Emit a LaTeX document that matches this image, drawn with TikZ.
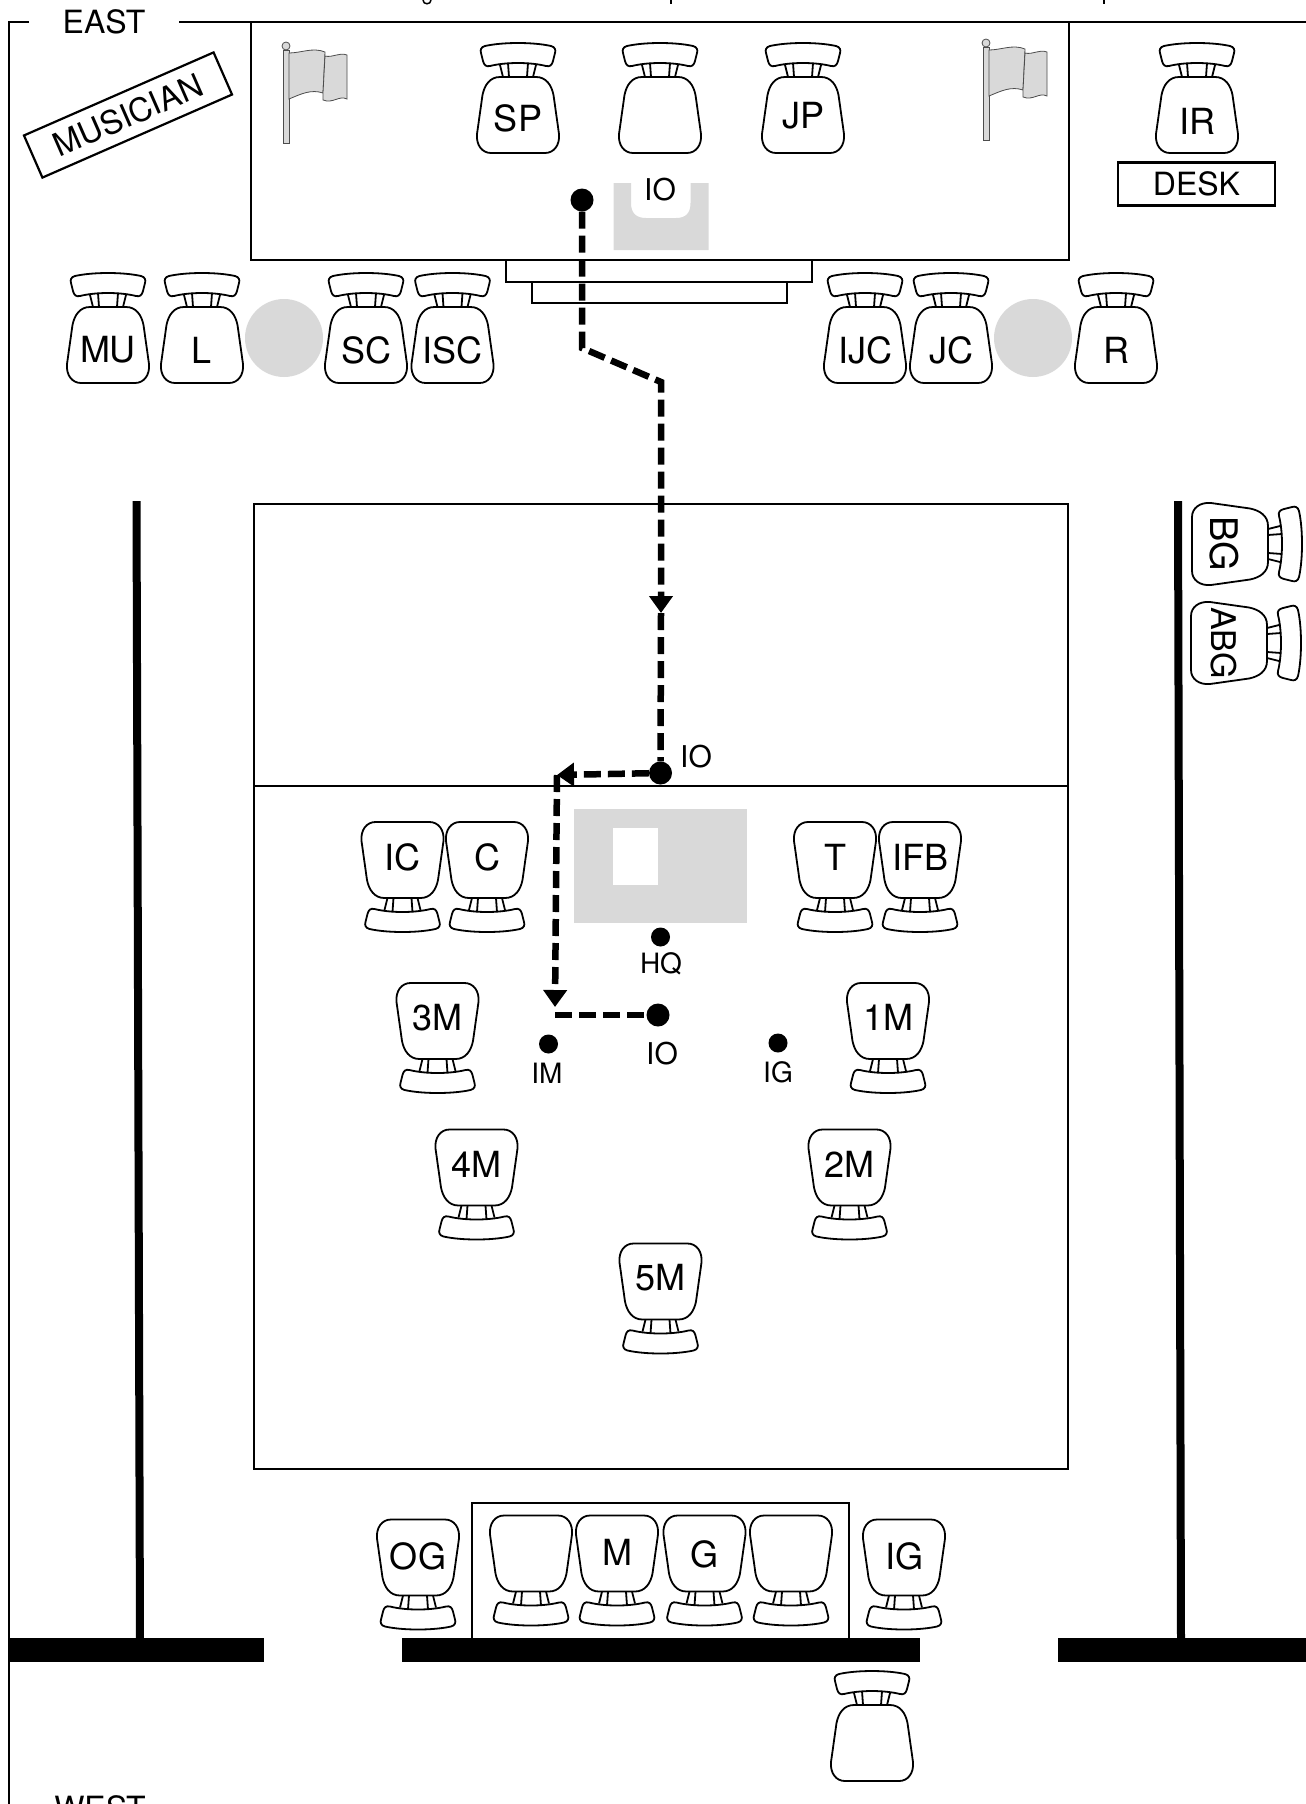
\documentclass[tikz,border=0pt]{standalone}
\usepackage{fontspec}
\setmainfont{TeX Gyre Heros}
\usetikzlibrary{arrows.meta}
\definecolor{floorgrey}{gray}{0.85}
\tikzset{
  line/.style={line width=2.2pt},
  bar/.style={fill=black},
  grey/.style={fill=floorgrey},
  dot/.style={circle, fill=black, inner sep=0pt},
  route/.style={line width=6.5pt, dash pattern=on 17pt off 7pt},
  name36/.style={inner sep=0pt, font=\fontsize{36}{36}\selectfont},
  name32/.style={inner sep=0pt, font=\fontsize{32}{32}\selectfont},
  name30/.style={inner sep=0pt, font=\fontsize{30}{30}\selectfont},
  name28/.style={inner sep=0pt, font=\fontsize{28}{28}\selectfont},
  tip/.style={-{Triangle[width=23pt,length=17pt]}},
  pics/chair/.style={code={
    \draw[line width=1.8pt, fill=white] (-18,-38) -- (18,-38)
      .. controls (28,-38) and (33.5,-30) .. (35.5,-20) -- (41,19)
      .. controls (42,30) and (36,38) .. (27,38) -- (-27,38)
      .. controls (-36,38) and (-42,30) .. (-41,19) -- (-35.5,-20)
      .. controls (-33.5,-30) and (-28,-38) .. (-18,-38) -- cycle;
    \draw[line width=1.8pt, fill=white] (-33,-69)
      .. controls (-15,-73) and (15,-73) .. (33,-69)
      .. controls (37,-68) and (38,-65) .. (37,-62) -- (35,-54)
      .. controls (34,-50) and (32,-48) .. (28,-49)
      .. controls (12,-53) and (-12,-53) .. (-28,-49)
      .. controls (-32,-48) and (-34,-50) .. (-35,-54) -- (-37,-62)
      .. controls (-38,-65) and (-37,-68) .. (-33,-69) -- cycle;
    \draw[line width=1.8pt] (-18,-50) -- (-15,-38) (-10,-52) -- (-9,-38)
      (18,-50) -- (15,-38) (10,-52) -- (9,-38);
  }},
  pics/flag/.style={code={
    \draw[line width=0.8pt, draw=black!70, grey] (0,0) rectangle (6,-93);
    \draw[line width=0.8pt, draw=black!70, grey] (3,-97) circle[radius=4pt];
    \draw[line width=0.8pt, draw=black!70, grey] (6,-90) .. controls (18,-90) and (30,-96) .. (42,-91)
      -- (40,-50) .. controls (28,-54) and (18,-49) .. (6,-44) -- cycle;
    \draw[line width=0.8pt, draw=black!70, grey] (42,-87) .. controls (50,-85) and (56,-91) .. (64,-88)
      -- (64,-44) .. controls (56,-48) and (50,-39) .. (40,-43) -- (40,-50) -- cycle;
  }},
}
\begin{document}
\begin{tikzpicture}[x=1pt, y=-1pt]
  \useasboundingbox (0,0) rectangle (1306,1804);
  % frame and cut-off title
  \draw[line] (29,22) -- (9,22) -- (9,1804);
  \draw[line] (179,22) -- (1306,22);
  \draw[line width=1.5pt] (423,0) .. controls (423,5) and (431,5) .. (431,0);
  \draw[line width=1.5pt] (671,0) -- (671,4);
  \draw[line width=1.5pt] (1104,0) -- (1104,4);
  \node[name32] (east) at (104,22) {EAST};
  \node[name32] (west) at (100,1808) {WEST};
  % stage
  \draw[line] (251,22) rectangle (1069,260);
  \draw[line] (506,260) rectangle (812,282);
  \draw[line] (532,282) rectangle (787,303);
  \fill[floorgrey] (613.5,183) -- (631,183) -- (631,203)
    .. controls (631,213) and (636,218) .. (646,218) -- (676,218)
    .. controls (686,218) and (690.5,213) .. (690.5,203) -- (690.5,183)
    -- (708.5,183) -- (708.5,250) -- (613.5,250) -- cycle;
  \pic at (283,143) {flag};
  \pic at (983,140) {flag};
  \node[draw, line, rotate=23.65, minimum width=207pt, minimum height=46pt,
    inner sep=0pt, font=\fontsize{32.5}{33}\selectfont] (musician) at (128,115) {MUSICIAN};
  \node[draw, line, minimum width=157pt, minimum height=43pt, inner sep=0pt,
    font=\fontsize{32}{32}\selectfont] (desk) at (1196.5,184) {DESK};
  % field
  \draw[line] (254,504) rectangle (1068,1469);
  \draw[line] (254,786) -- (1068,786);
  \fill[floorgrey] (574,809) rectangle (747,923);
  \fill[white] (612.5,828) rectangle (657.5,885);
  \fill[floorgrey] (284,338) circle[radius=39pt];
  \fill[floorgrey] (1033,338) circle[radius=39pt];
  % poles and walls
  \fill[bar] (132.5,501) -- (140.5,501) -- (144,1640) -- (136,1640) -- cycle;
  \fill[bar] (1174,501) -- (1182,501) -- (1185,1640) -- (1177,1640) -- cycle;
  \draw[line] (472,1638) -- (472,1503) -- (849,1503) -- (849,1638);
  \fill[bar] (8,1638) rectangle (264,1662);
  \fill[bar] (402,1638) rectangle (920,1662);
  \fill[bar] (1057.5,1638) rectangle (1306,1662);
  % chairs facing the field
  \foreach \n/\x/\y/\t in {SP/518/115/118.5, JP/803/115/115.5, IR/1197/115/121,
      MU/108/345/350, L/202/345/350, SC/366/345/350, ISC/452.5/345/350,
      IJC/865/345/350, JC/951/345/350, R/1116/345/350} {
    \pic at (\x,\y) {chair};
    \node[name36] (chair\n) at (\x,\t) {\n};
  }
  \pic at (660,115) {chair};
  \pic at (872,1743) {chair};
  % chairs facing the stage
  \foreach \n/\x/\y/\t in {IC/402.5/860/857.5, C/487/860/857.5, T/835/860/857.5, IFB/920/860/857.5,
      3M/437.5/1021/1017.5, 1M/888/1021/1017.5, 4M/476.5/1167.5/1164, 2M/849.5/1167.5/1164,
      5M/660.5/1281.5/1278, OG/418/1557.5/1556, M/617/1553.5/1552, G/704.5/1553.5/1554,
      IG/904/1557.5/1556} {
    \pic[rotate=180] at (\x,\y) {chair};
    \node[name36] (chair\n) at (\x,\t) {\n};
  }
  \pic[rotate=180] at (531,1553.5) {chair};
  \pic[rotate=180] at (791,1553.5) {chair};
  % side chairs
  \pic[rotate=-90] at (1230,544) {chair};
  \pic[rotate=-90] at (1229,643) {chair};
  \node[inner sep=0pt, rotate=-90, font=\fontsize{38}{38}\selectfont] (chairBG) at (1224,544) {BG};
  \node[inner sep=0pt, rotate=-90, font=\fontsize{34}{34}\selectfont] (chairABG) at (1224,643) {ABG};
  % points
  \node[dot, minimum size=23pt] (ioa) at (582,200) {};
  \node[dot, minimum size=23pt] (iob) at (660.5,773) {};
  \node[dot, minimum size=23pt] (ioc) at (658,1015) {};
  \node[dot, minimum size=19pt] (hq) at (660.5,937) {};
  \node[dot, minimum size=19pt] (im) at (548.5,1044) {};
  \node[dot, minimum size=19pt] (ig) at (778,1043) {};
  \node[name28] (hqlabel) at (661,963.5) {HQ};
  \node[name28] (imlabel) at (547,1073) {IM};
  \node[name28] (iglabel) at (778,1072.5) {IG};
  \node[name30] (ioalabel) at (660,190) {IO};
  \node[name30] (ioblabel) at (696,757) {IO};
  \node[name30] (ioclabel) at (662,1054) {IO};
  % route
  \coordinate (bendA) at (582,348);
  \coordinate (bendB) at (661,382);
  \coordinate (tipA) at (661,613);
  \coordinate (tipB) at (557,775);
  \coordinate (tipC) at (555,1007);
  \coordinate (bendC) at (555,1015);
  \draw[route, tip] (ioa) -- (bendA) -- (bendB) -- (tipA);
  \draw[route] (tipA) -- (iob);
  \draw[route, tip] (iob) -- (tipB);
  \draw[route, tip] (tipB) -- (tipC);
  \draw[route] (bendC) -- (ioc);
\end{tikzpicture}
\end{document}
